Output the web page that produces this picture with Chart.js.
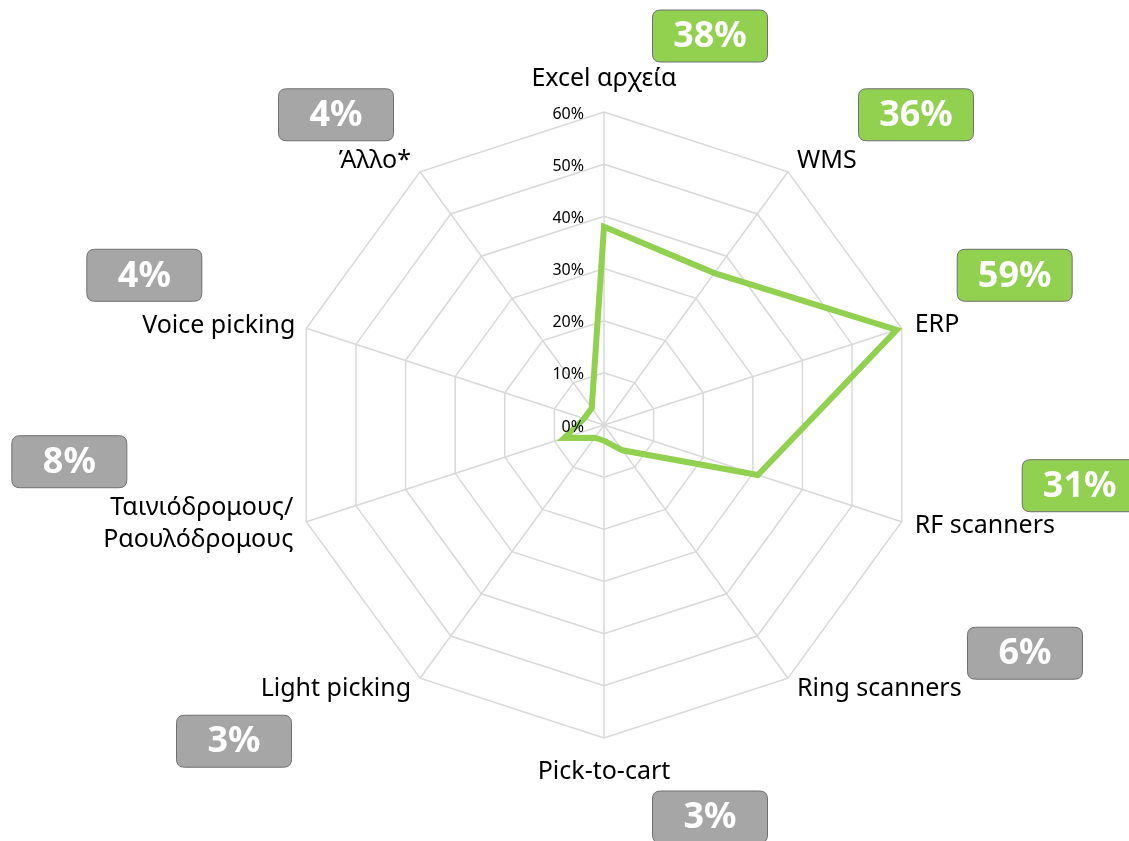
<!DOCTYPE html>
<html>
<head>
<meta charset="utf-8">
<script src="https://cdn.jsdelivr.net/npm/chart.js@4.4.1/dist/chart.umd.min.js"></script>
<style>
  html, body { margin: 0; padding: 0; background: #ffffff; }
  #wrap { width: 1129px; height: 841px; position: relative; }
</style>
</head>
<body>
<div id="wrap"><canvas id="radar"></canvas></div>
<script>
// --- datos ---
const categorias = ['Excel αρχεία', 'WMS', 'ERP', 'RF scanners', 'Ring scanners', 'Pick-to-cart',
    'Light picking', ['Ταινιόδρομους/', 'Ραουλόδρομους'], 'Voice picking', 'Άλλο*'];
const valores = [38, 36, 59, 31, 6, 3, 3, 8, 4, 4];
const etiquetasValor = ['38%', '36%', '59%', '31%', '6%', '3%', '3%', '8%', '4%', '4%'];
const etiquetasEje = ['0%', '10%', '20%', '30%', '40%', '50%', '60%'];

// --- colocación de textos (desplazamiento desde el vértice exterior) ---
const posCategoria = [
    { dx: 0, dy: -33, align: 'center' },
    { dx: 9, dy: -11, align: 'left' },
    { dx: 13, dy: -3, align: 'left' },
    { dx: 13, dy: 4, align: 'left' },
    { dx: 9, dy: 11, align: 'left' },
    { dx: 0, dy: 34, align: 'center' },
    { dx: -9, dy: 11, align: 'right' },
    { dx: -13, dy: 2, align: 'right' },
    { dx: -11, dy: -2, align: 'right' },
    { dx: -9, dy: -11, align: 'right' }
];
const posCaja = [
    [106, -76], [128, -57], [113, -53], [178, -36], [237, -25],
    [106, 79], [-186, 63], [-237, -60], [-162, -53], [-84, -57]
];

const VERDE = '#92D050';
const GRIS = '#A6A6A6';
const FUENTE = '"Noto Sans", "Open Sans", sans-serif';

function cajaRedondeada(ctx, x, y, w, h, r) {
    ctx.beginPath();
    ctx.moveTo(x + r, y);
    ctx.lineTo(x + w - r, y);
    ctx.quadraticCurveTo(x + w, y, x + w, y + r);
    ctx.lineTo(x + w, y + h - r);
    ctx.quadraticCurveTo(x + w, y + h, x + w - r, y + h);
    ctx.lineTo(x + r, y + h);
    ctx.quadraticCurveTo(x, y + h, x, y + h - r);
    ctx.lineTo(x, y + r);
    ctx.quadraticCurveTo(x, y, x + r, y);
    ctx.closePath();
}

// Plugin: ticks, nombres de categoría y cajas de porcentaje
const textosRadar = {
    id: 'textosRadar',
    afterDraw(chart) {
        const ctx = chart.ctx;
        const r = chart.scales.r;
        const R = r.drawingArea;
        ctx.save();

        // ticks a la izquierda del eje vertical
        ctx.font = '16px ' + FUENTE;
        ctx.fillStyle = '#000000';
        ctx.textAlign = 'right';
        ctx.textBaseline = 'middle';
        r.ticks.forEach((t, i) => {
            const y = r.yCenter - r.getDistanceFromCenterForValue(t.value);
            ctx.fillText(etiquetasEje[i], r.xCenter - 20, y + 2);
        });

        // nombres de categoría
        ctx.font = '25px ' + FUENTE;
        categorias.forEach((cat, i) => {
            const p = r.getPointPosition(i, R);
            const c = posCategoria[i];
            ctx.textAlign = c.align;
            const lineas = Array.isArray(cat) ? cat : [cat];
            const alto = 32;
            const y0 = p.y + c.dy - (lineas.length - 1) * alto / 2;
            lineas.forEach((l, k) => ctx.fillText(l, p.x + c.dx, y0 + k * alto));
        });

        // cajas con el valor
        const w = 115, h = 52;
        ctx.font = 'bold 36px ' + FUENTE;
        ctx.textAlign = 'center';
        valores.forEach((v, i) => {
            const p = r.getPointPosition(i, R);
            const cx = p.x + posCaja[i][0];
            const cy = p.y + posCaja[i][1];
            cajaRedondeada(ctx, cx - w / 2, cy - h / 2, w, h, 8);
            ctx.fillStyle = v >= 20 ? VERDE : GRIS;
            ctx.fill();
            ctx.lineWidth = 1;
            ctx.strokeStyle = '#6F6F6F';
            ctx.stroke();
            ctx.fillStyle = '#ffffff';
            ctx.fillText(etiquetasValor[i], cx, cy + 1);
        });
        ctx.restore();
    }
};

new Chart(document.getElementById('radar'), {
    type: 'radar',
    data: {
        labels: categorias,
        datasets: [{
            data: valores,
            borderColor: VERDE,
            backgroundColor: 'rgba(0,0,0,0)',
            borderWidth: 6,
            pointRadius: 0,
            fill: false,
            tension: 0
        }]
    },
    options: {
        responsive: true,
        maintainAspectRatio: false,
        animation: false,
        devicePixelRatio: 1,
        layout: { padding: { left: 80, right: 0, top: 112, bottom: 103 } },
        plugins: { legend: { display: false }, tooltip: { enabled: false } },
        scales: {
            r: {
                min: 0,
                max: 60,
                ticks: { stepSize: 10, display: false },
                pointLabels: { display: false },
                grid: { color: '#D9D9D9', lineWidth: 1.5 },
                angleLines: { color: '#D9D9D9', lineWidth: 1.5 }
            }
        }
    },
    plugins: [textosRadar]
});
</script>
</body>
</html>
